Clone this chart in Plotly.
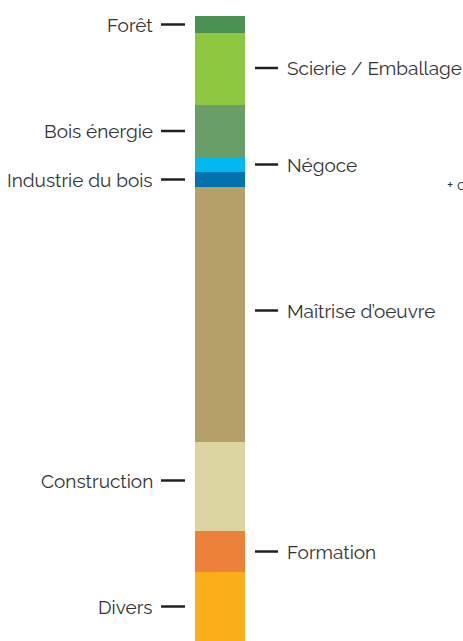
import plotly.graph_objects as go

categories = ["Forêt", "Scierie / Emballage", "Bois énergie", "Négoce", "Industrie du bois",
              "Maîtrise d’oeuvre", "Construction", "Formation", "Divers"]
values = [17, 72, 52, 15, 15, 255, 89, 41, 69]
colors = ["#4b9151", "#8dc63f", "#6a9e69", "#00b9f1", "#0072ae",
          "#b6a06a", "#dcd5a2", "#ee813a", "#f9ae1a"]
sides = ["left", "right", "left", "right", "left", "right", "left", "right", "left"]
label_offset = [0, -1, 0, 0, 0, -4, -6, 0, 0]

fig = go.Figure()
for c, v, col in zip(categories, values, colors):
    fig.add_trace(go.Bar(x=[0], y=[v], name=c, marker=dict(color=col, line=dict(width=0)),
                         width=1, showlegend=False, hoverinfo="skip"))

total = sum(values)
cum = 0
annotations = []
shapes = []
for c, v, side, off in zip(categories, values, sides, label_offset):
    mid = cum + v / 2 + off
    cum += v
    if side == "left":
        annotations.append(dict(x=-1.3, y=mid, text=c, xanchor="right", yanchor="middle",
                                showarrow=False, font=dict(size=19, color="#333333")))
        shapes.append(dict(type="line", x0=-1.18, x1=-0.7, y0=mid, y1=mid, yref="y", xref="x",
                           line=dict(color="#231f20", width=2.5)))
    else:
        annotations.append(dict(x=1.3, y=mid, text=c, xanchor="left", yanchor="middle",
                                showarrow=False, font=dict(size=19, color="#333333")))
        shapes.append(dict(type="line", x0=0.7, x1=1.16, y0=mid, y1=mid, yref="y", xref="x",
                           line=dict(color="#231f20", width=2.5)))

annotations.append(dict(x=4.49, y=sum(values[:5]) - 2,
                        text="+ c", xanchor="left", yanchor="middle", showarrow=False,
                        font=dict(size=15, color="#333333")))

fig.update_layout(
    width=463, height=641,
    margin=dict(l=0, r=0, t=16, b=0),
    barmode="stack",
    paper_bgcolor="white", plot_bgcolor="white",
    font=dict(family="Raleway, Lato, sans-serif"),
    xaxis=dict(range=[-4.4, 4.86], visible=False, fixedrange=True),
    yaxis=dict(range=[total, 0], visible=False, fixedrange=True),
    annotations=annotations,
    shapes=shapes,
    hovermode=False,
)

fig.write_html("out.html", config={"displayModeBar": False},
               post_script="document.body.style.margin='0';document.body.style.overflow='hidden';")
